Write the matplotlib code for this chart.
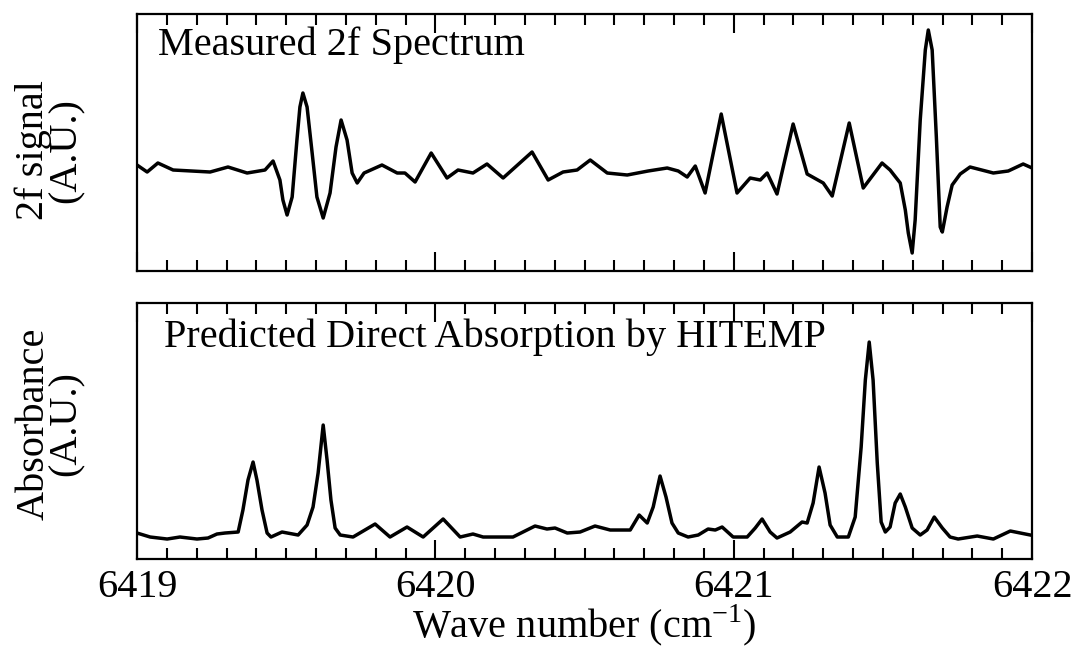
"""
Measured 2f spectrum vs. HITEMP predicted direct absorption.
"""
import matplotlib
matplotlib.use("Agg")
import matplotlib.pyplot as plt
from matplotlib.ticker import MultipleLocator

plt.rcParams["font.family"] = ["Liberation Serif", "DejaVu Serif"]
plt.rcParams["mathtext.fontset"] = "custom"
plt.rcParams["mathtext.rm"] = "Liberation Serif"

# measured 2f signal (arbitrary units, baseline ~0)
wn_2f = [6419.000, 6419.034, 6419.070, 6419.121, 6419.245, 6419.305, 6419.369,
         6419.429, 6419.456, 6419.479, 6419.489, 6419.503, 6419.520, 6419.536, 6419.546,
         6419.556, 6419.570, 6419.587, 6419.603, 6419.624, 6419.647, 6419.667, 6419.684,
         6419.704, 6419.721, 6419.738, 6419.761, 6419.821, 6419.872, 6419.898, 6419.932,
         6419.986, 6420.039, 6420.076, 6420.126, 6420.173, 6420.227, 6420.324, 6420.378,
         6420.428, 6420.475, 6420.519, 6420.576, 6420.643, 6420.713, 6420.777, 6420.814,
         6420.844, 6420.871, 6420.904, 6420.958, 6421.011, 6421.055, 6421.089, 6421.112,
         6421.145, 6421.199, 6421.246, 6421.300, 6421.330, 6421.387, 6421.434, 6421.497,
         6421.524, 6421.558, 6421.575, 6421.585, 6421.598, 6421.608, 6421.625, 6421.642,
         6421.652, 6421.665, 6421.679, 6421.692, 6421.699, 6421.715, 6421.732, 6421.759,
         6421.792, 6421.870, 6421.920, 6421.970, 6422.000]
sig_2f = [1, -6, 3, -4, -6, -1, -7,
          -4, 5, -14, -34, -49, -31, 26, 59,
          73, 59, 13, -31, -52, -27, 19, 46,
          26, -7, -17, -7, 1, -7, -7, -16,
          13, -12, -4, -7, 2, -12, 14, -14,
          -6, -4, 6, -7, -9, -5, -2, -5,
          -11, 0, -27, 52, -27, -12, -14, -7,
          -28, 42, -8, -17, -30, 43, -22, 3,
          -4, -17, -44, -67, -87, -54, 46, 116,
          136, 116, 29, -61, -66, -41, -19, -8,
          -1, -7, -5, 2, -2]

# predicted absorbance (arbitrary units)
wn_abs = [6419.000, 6419.044, 6419.101, 6419.144, 6419.201, 6419.238, 6419.268,
          6419.295, 6419.339, 6419.355, 6419.372, 6419.389, 6419.402, 6419.419, 6419.436,
          6419.449, 6419.486, 6419.540, 6419.570, 6419.590, 6419.607, 6419.624, 6419.637,
          6419.650, 6419.664, 6419.681, 6419.724, 6419.798, 6419.848, 6419.905, 6419.959,
          6420.026, 6420.083, 6420.126, 6420.160, 6420.260, 6420.334, 6420.374, 6420.401,
          6420.442, 6420.485, 6420.535, 6420.586, 6420.653, 6420.683, 6420.710, 6420.730,
          6420.753, 6420.773, 6420.793, 6420.814, 6420.847, 6420.881, 6420.914, 6420.938,
          6420.961, 6420.998, 6421.045, 6421.072, 6421.095, 6421.122, 6421.145, 6421.189,
          6421.229, 6421.246, 6421.266, 6421.286, 6421.306, 6421.323, 6421.347, 6421.384,
          6421.407, 6421.427, 6421.441, 6421.454, 6421.467, 6421.481, 6421.494, 6421.508,
          6421.524, 6421.541, 6421.558, 6421.575, 6421.598, 6421.625, 6421.648, 6421.672,
          6421.699, 6421.725, 6421.752, 6421.816, 6421.870, 6421.927, 6421.994]
absorb = [26, 22, 20, 22, 20, 21, 25,
          26, 27, 49, 79, 97, 79, 49, 26,
          22, 27, 24, 34, 52, 86, 134, 99,
          59, 31, 24, 22, 35, 22, 32, 22,
          40, 22, 25, 22, 22, 33, 30, 31,
          26, 27, 33, 29, 29, 44, 36, 52,
          83, 62, 36, 26, 22, 24, 30, 29,
          32, 22, 22, 31, 40, 27, 21, 27,
          37, 36, 56, 92, 66, 34, 22, 22,
          42, 112, 179, 217, 179, 96, 37, 27,
          32, 56, 65, 52, 31, 24, 29, 42,
          31, 22, 20, 23, 20, 28, 24]

x_ticks = [6419, 6420, 6421, 6422]
FS = 29


def style_axis(ax):
    ax.set_xlim(6419, 6422)
    ax.xaxis.set_major_locator(MultipleLocator(1))
    ax.xaxis.set_minor_locator(MultipleLocator(0.1))
    ax.tick_params(axis="x", which="both", direction="in", top=True, bottom=True,
                   width=1.5, labelsize=FS, pad=7)
    ax.tick_params(axis="x", which="major", length=14)
    ax.tick_params(axis="x", which="minor", length=8)
    ax.set_yticks([])
    for sp in ax.spines.values():
        sp.set_linewidth(1.6)


fig = plt.figure(figsize=(10.72, 6.51), dpi=100)
ax1 = fig.add_axes([0.1278, 0.5837, 0.835, 0.3948])
ax2 = fig.add_axes([0.1278, 0.1413, 0.835, 0.3932])

ax1.plot(wn_2f, sig_2f, color="k", lw=2.5, solid_joinstyle="round")
ax1.set_ylim(-105, 152)
style_axis(ax1)
ax1.tick_params(axis="x", labelbottom=False)
ax1.text(0.024, 0.95, "Measured 2f Spectrum", transform=ax1.transAxes,
         fontsize=FS, va="top", ha="left")
ax1.set_ylabel("2f signal\n(A.U.)", fontsize=FS, linespacing=0.85)
ax1.yaxis.set_label_coords(-0.058, 0.47)

ax2.plot(wn_abs, absorb, color="k", lw=2.5, solid_joinstyle="round")
ax2.set_ylim(0, 256)
style_axis(ax2)
ax2.set_xticks(x_ticks)
ax2.set_xticklabels([str(t) for t in x_ticks])
ax2.text(0.03, 0.94, "Predicted Direct Absorption by HITEMP", transform=ax2.transAxes,
         fontsize=FS, va="top", ha="left")
ax2.set_ylabel("Absorbance\n(A.U.)", fontsize=FS, linespacing=0.85)
ax2.yaxis.set_label_coords(-0.058, 0.53)
ax2.set_xlabel("Wave number (cm$^{-1}$)", fontsize=FS)
ax2.xaxis.set_label_coords(0.5, -0.17)

plt.savefig("out.png", dpi=100)
plt.close()
